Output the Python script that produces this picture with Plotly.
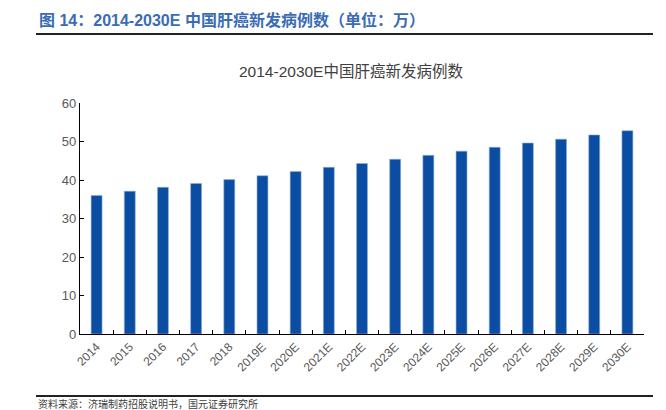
import plotly.graph_objects as go

years = ["2014", "2015", "2016", "2017", "2018", "2019E", "2020E", "2021E", "2022E",
         "2023E", "2024E", "2025E", "2026E", "2027E", "2028E", "2029E", "2030E"]
cases = [36.0, 37.1, 38.1, 39.1, 40.1, 41.1, 42.2, 43.3, 44.3,
         45.4, 46.4, 47.5, 48.5, 49.6, 50.6, 51.7, 52.8]
y_ticks = [0, 10, 20, 30, 40, 50, 60]

header = "图 14：2014-2030E 中国肝癌新发病例数（单位：万）"
chart_title = "2014-2030E中国肝癌新发病例数"
source = "资料来源：济瑞制药招股说明书，国元证券研究所"

FONT = "Liberation Sans, Arial, Noto Sans CJK SC"

fig = go.Figure()
fig.add_trace(go.Bar(
    x=years, y=cases,
    marker=dict(color="#0B4DA2", line=dict(color="#8FB0DA", width=0.6)),
    width=0.33,
))

fig.update_layout(
    width=666, height=410,
    margin=dict(l=80, r=22, t=103, b=76),
    paper_bgcolor="white", plot_bgcolor="white",
    showlegend=False,
    font=dict(family=FONT, color="#595959"),
    xaxis=dict(
        type="category",
        showline=True, linecolor="black", linewidth=1.2,
        ticks="inside", ticklen=4, tickcolor="black", tickwidth=1.2,
        tickson="boundaries",
        tickangle=-45,
        tickfont=dict(size=12, color="#595959"),
        showgrid=False,
    ),
    yaxis=dict(
        range=[0, 60],
        tickvals=y_ticks,
        showline=True, linecolor="black", linewidth=1.2,
        ticks="inside", ticklen=4, tickcolor="black", tickwidth=1.2,
        tickfont=dict(size=13, color="#595959"),
        showgrid=False, zeroline=False,
    ),
)

fig.add_annotation(
    text="<b>" + header + "</b>", xref="paper", yref="paper",
    x=(37 - 80) / 564, y=(334 - 20) / 231, xanchor="left", yanchor="middle",
    showarrow=False, font=dict(family=FONT, size=16, color="#3A6CB4"),
)
fig.add_annotation(
    text=chart_title, xref="paper", yref="paper",
    x=(351 - 80) / 564, y=(334 - 71) / 231, xanchor="center", yanchor="middle",
    showarrow=False, font=dict(family=FONT, size=15.5, color="#404040"),
)
fig.add_annotation(
    text=source, xref="paper", yref="paper",
    x=(36 - 80) / 564, y=(334 - 403.5) / 231, xanchor="left", yanchor="middle",
    showarrow=False, font=dict(family=FONT, size=10, color="#404040"),
)

# header and footer rules
fig.add_shape(type="line", xref="paper", yref="paper",
              x0=(36 - 80) / 564, x1=(653 - 80) / 564,
              y0=(334 - 34) / 231, y1=(334 - 34) / 231,
              line=dict(color="#222222", width=2))
fig.add_shape(type="line", xref="paper", yref="paper",
              x0=(36 - 80) / 564, x1=(653 - 80) / 564,
              y0=(334 - 396) / 231, y1=(334 - 396) / 231,
              line=dict(color="#222222", width=2))

fig.write_html("out.html", config={"displayModeBar": False},
               post_script="document.body.style.margin='0';")
